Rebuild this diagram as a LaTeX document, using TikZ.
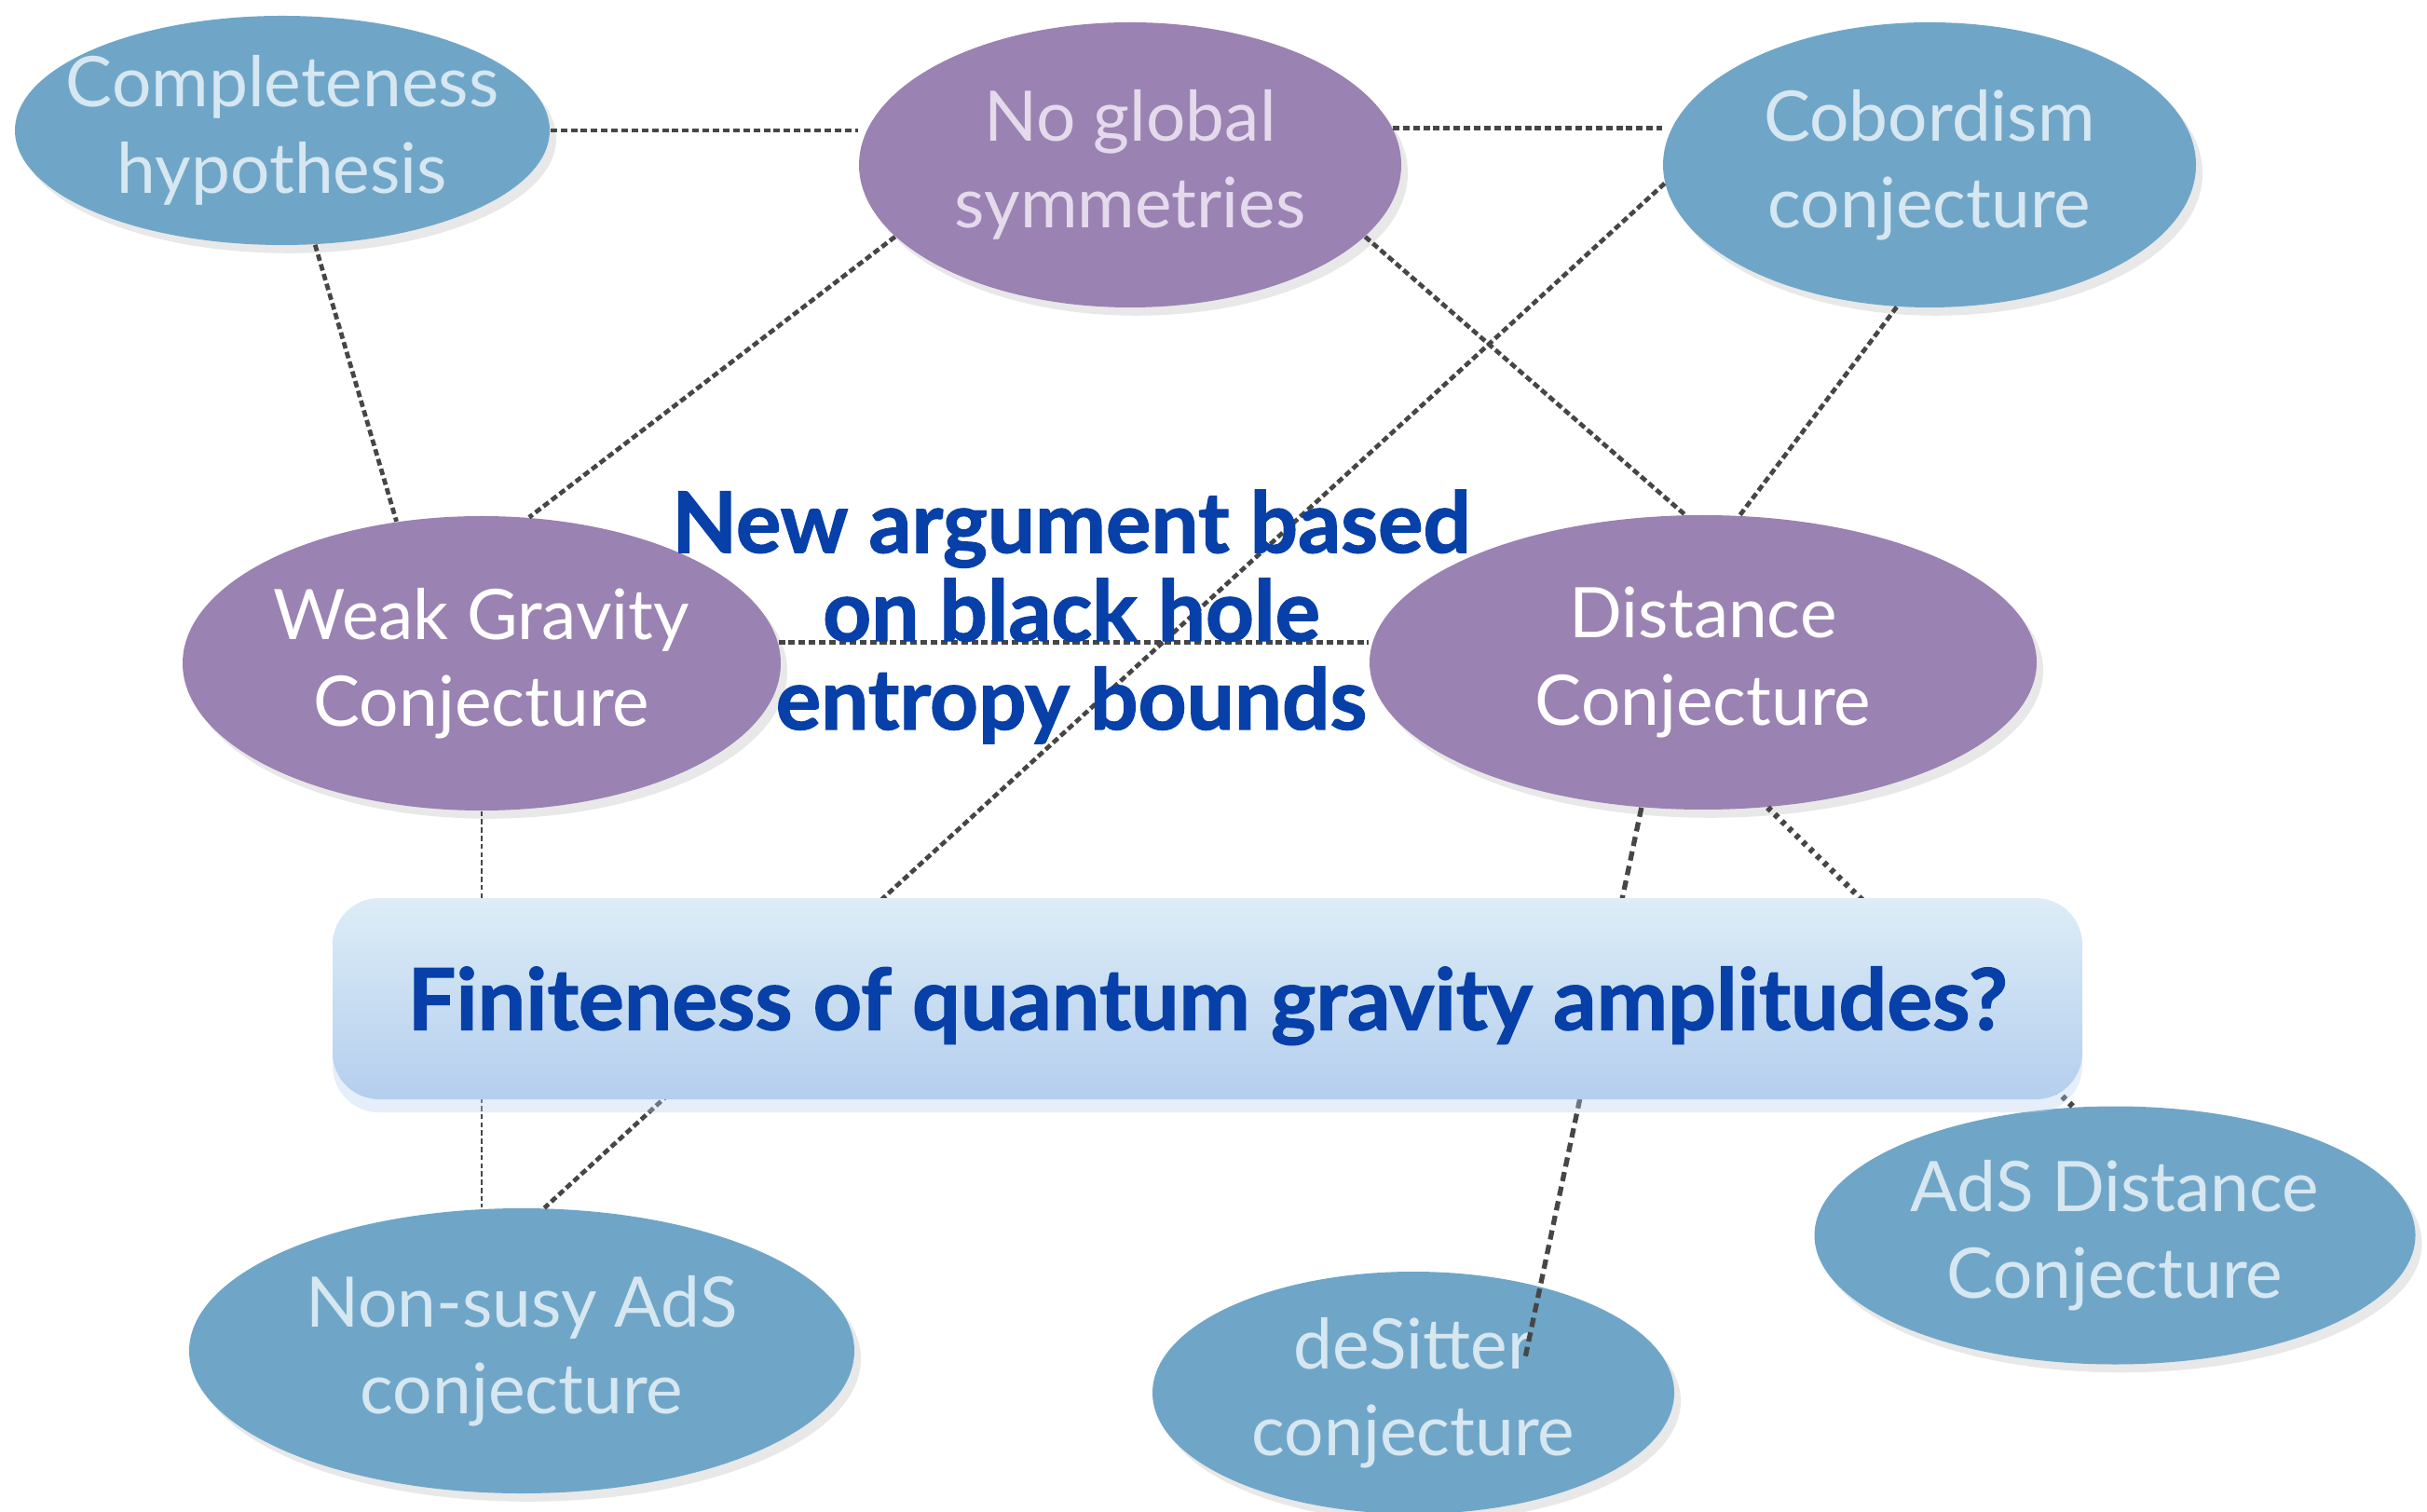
\documentclass[tikz,border=0pt]{standalone}
\usepackage{fontspec}
\setmainfont{Lato}
\newfontfamily\heavyfont{Lato}[BoldFeatures={FakeBold=1.4}]
\usetikzlibrary{shapes.geometric,shadows,calc}

\definecolor{bubbleblue}{RGB}{111,166,200}
\definecolor{bubblepurple}{RGB}{154,130,178}
\definecolor{paleblue}{RGB}{214,231,241}
\definecolor{palepurple}{RGB}{228,218,236}
\definecolor{titleblue}{RGB}{6,64,168}
\definecolor{dotgray}{RGB}{70,70,70}
\definecolor{boxtop}{RGB}{221,237,247}
\definecolor{boxbottom}{RGB}{180,206,238}

\begin{document}
\begin{tikzpicture}[bubble/.style={ellipse,inner xsep=-1cm,inner ysep=0pt,align=center,font=\fontsize{21.3}{26.5}\selectfont,drop shadow={shadow xshift=2pt,shadow yshift=-2.5pt,opacity=.18}},
  conj/.style={bubble,fill=bubbleblue,text=paleblue},
  sym/.style={bubble,fill=bubblepurple,text=white},
  link/.style={draw=dotgray,line width=1.35pt,dash pattern=on 2pt off 1.1pt},
  thinlink/.style={draw=dotgray,line width=.75pt,dash pattern=on 1.6pt off .9pt},
  dashlink/.style={draw=dotgray,line width=1.5pt,dash pattern=on 2.85pt off 1.7pt},
  dotlink/.style={draw=dotgray,line width=1.8pt,dash pattern=on 1.4pt off 1.6pt},
  claim/.style={align=center,text=titleblue,font=\heavyfont\bfseries\fontsize{25.8}{27}\selectfont},
  question/.style={rounded corners=.5cm,minimum width=18.78cm,minimum height=2.16cm,top color=boxtop,bottom color=boxbottom,text=titleblue,text height=24pt,text depth=5pt,font=\heavyfont\bfseries\fontsize{26}{28}\selectfont,drop shadow={shadow xshift=0pt,shadow yshift=-4pt,fill=boxbottom,opacity=.35}}]
\useasboundingbox (0,0) rectangle (26.05,16.22);

\node[conj,minimum width=5.74cm,minimum height=2.46cm] (comp) at (3.03,14.82) {Completeness\\hypothesis};
\node[sym,text=palepurple,minimum width=5.82cm,minimum height=3.06cm] (nog) at (12.13,14.45) {No global\\symmetries};
\node[conj,minimum width=5.72cm,minimum height=3.06cm] (cob) at (20.71,14.45) {Cobordism\\conjecture};
\node[sym,minimum width=6.42cm,minimum height=3.16cm] (wgc) at (5.17,9.10) {Weak Gravity\\Conjecture};
\node[sym,minimum width=7.16cm,minimum height=3.16cm] (dist) at (18.28,9.11) {Distance\\Conjecture};
\node[conj,minimum width=7.14cm,minimum height=3.06cm] (nsads) at (5.60,1.72) {Non-susy AdS\\conjecture};
\node[conj,minimum width=5.60cm,minimum height=2.60cm] (ds) at (15.17,1.27) {deSitter\\conjecture};
\node[conj,minimum width=6.45cm,minimum height=2.77cm] (adsd) at (22.70,2.96) {AdS Distance\\Conjecture};

% links
\draw[link] (comp.east) -- (comp.east -| nog.west);
\draw[link] (nog.8) -- (nog.8 -| cob.west);
\draw[link] (comp.-74) -- (wgc.121);
\draw[link] (nog.197) -- (wgc.72);
\draw[link] (nog.-17) -- (dist.97);
\draw[link] (cob.257) -- (dist.76);
\draw[link] (cob.184) -- (nsads.81);
\draw[link] (wgc.4) -- (wgc.4 -| dist.west);
\draw[thinlink] (wgc.south) -- (wgc.south |- nsads.north);
\draw[dashlink,shorten >=-.8cm] (dist.247) -- (ds.40);
\draw[dotlink] (dist.-66) -- (adsd.108);

\node[claim] (arg) at (11.50,9.60) {New argument based\\on black hole\\entropy bounds};
\node[question] (fin) at (12.96,5.50) {Finiteness of quantum gravity amplitudes?};
\end{tikzpicture}
\end{document}
